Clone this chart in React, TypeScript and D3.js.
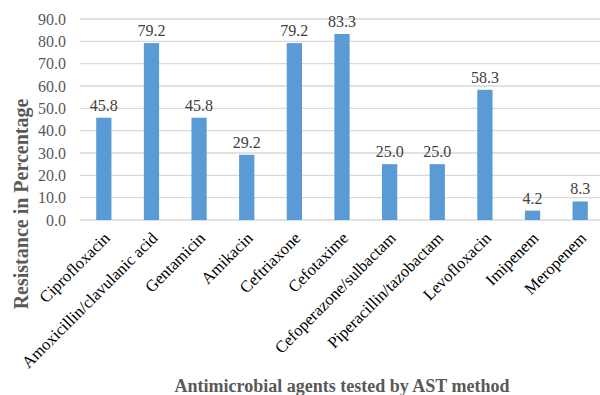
import React from "react";
import * as d3 from "d3";

const categories = [
  "Ciprofloxacin",
  "Amoxicillin/clavulanic acid",
  "Gentamicin",
  "Amikacin",
  "Ceftriaxone",
  "Cefotaxime",
  "Cefoperazone/sulbactam",
  "Piperacillin/tazobactam",
  "Levofloxacin",
  "Imipenem",
  "Meropenem",
];
const values = [45.8, 79.2, 45.8, 29.2, 79.2, 83.3, 25.0, 25.0, 58.3, 4.2, 8.3];
const yTicks = [0, 10, 20, 30, 40, 50, 60, 70, 80, 90];
const yTitle = "Resistance in Percentage";
const xTitle = "Antimicrobial agents tested by AST method";

export default function App() {
  const W = 600, H = 395;
  const left = 80, right = 604, top = 19, bottom = 220;
  const x = d3.scaleBand<string>().domain(categories).range([left, right]).paddingInner(0.68).paddingOuter(0.34);
  const y = d3.scaleLinear().domain([0, 90]).range([bottom, top]);
  const font = "'Liberation Serif', 'Times New Roman', serif";
  return (
    <svg width={W} height={H} style={{ position: "absolute", left: 0, top: 0, background: "#fff" }}>
      {yTicks.map((t) => (
        <g key={t}>
          <line x1={left} x2={right} y1={y(t)} y2={y(t)} stroke="#d9d9d9" strokeWidth={1.3} />
          <text x={66} y={y(t)} dy="0.35em" textAnchor="end" fontFamily={font} fontSize={16} fill="#595959">
            {t.toFixed(1)}
          </text>
        </g>
      ))}
      {categories.map((c, i) => {
        const cx = x(c)! + x.bandwidth() / 2;
        return (
          <g key={c}>
            <rect x={x(c)} y={y(values[i])} width={x.bandwidth()} height={y(0) - y(values[i])} fill="#5B9BD5" />
            <text x={cx} y={y(values[i]) - 7} textAnchor="middle" fontFamily={font} fontSize={16} fill="#404040">
              {values[i].toFixed(1)}
            </text>
            <text
              transform={`translate(${cx + 3},${bottom + 15}) rotate(-45)`}
              textAnchor="end"
              dy="0.35em"
              fontFamily={font}
              fontSize={16.5}
              fill="#000"
            >
              {c}
            </text>
          </g>
        );
      })}
      <text
        transform={`translate(21,204) rotate(-90)`}
        textAnchor="middle"
        dy="0.35em"
        fontFamily={font}
        fontSize={20}
        fontWeight="bold"
        fill="#595959"
      >
        {yTitle}
      </text>
      <text x={342} y={392} textAnchor="middle" fontFamily={font} fontSize={18} fontWeight="bold" fill="#595959">
        {xTitle}
      </text>
    </svg>
  );
}
